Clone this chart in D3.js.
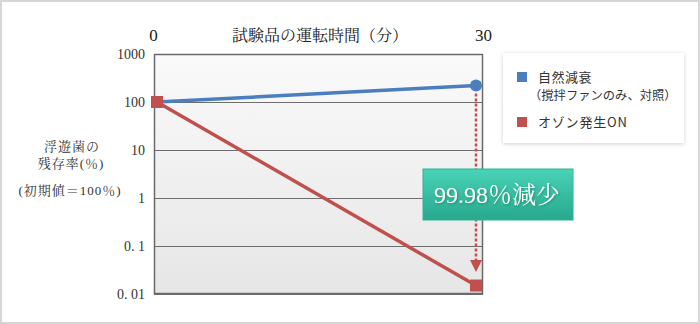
<!DOCTYPE html>
<html><head><meta charset="utf-8">
<script src="https://cdn.jsdelivr.net/npm/d3@7"></script>
<style>
html,body{margin:0;padding:0;background:#fff;}
svg{display:block;}
.serif{font-family:"Liberation Serif","DejaVu Serif","Noto Serif CJK JP","Noto Sans CJK JP",serif;}
.sans{font-family:"Noto Sans CJK JP","Noto Sans",sans-serif;}
</style></head>
<body>
<svg id="chart" width="700" height="324"></svg>
<script>
const times = [0, 30];
const naturalDecay = [100, 220];
const ozoneOn = [100, 0.015];
const yTicks = [1000, 100, 10, 1, 0.1, 0.01];
const yTickLabels = ["1000", "100", "10", "1", "0. 1", "0. 01"];
const seriesNames = ["自然減衰", "（撹拌ファンのみ、対照）", "オゾン発生ON"];
const xTitle = "試験品の運転時間（分）";
const yTitle = ["浮遊菌の", "残存率(％)", "(初期値＝100％)"];
const callout = "99.98％減少";

const svg = d3.select("#chart");
const defs = svg.append("defs");

const bgGrad = defs.append("linearGradient").attr("id","bg").attr("x1",0).attr("y1",0).attr("x2",0).attr("y2",1);
bgGrad.append("stop").attr("offset","0%").attr("stop-color","#fafafa");
bgGrad.append("stop").attr("offset","100%").attr("stop-color","#e6e6e6");
const tealGrad = defs.append("linearGradient").attr("id","teal").attr("x1",0).attr("y1",0).attr("x2",0).attr("y2",1);
tealGrad.append("stop").attr("offset","0%").attr("stop-color","#48d3b7");
tealGrad.append("stop").attr("offset","100%").attr("stop-color","#28a88c");
const shadow = defs.append("filter").attr("id","sh").attr("x",-0.1).attr("y",-0.1).attr("width",1.2).attr("height",1.3);
shadow.append("feDropShadow").attr("dx",0).attr("dy",1).attr("stdDeviation",2).attr("flood-color","#000").attr("flood-opacity",0.18);
const tshadow = defs.append("filter").attr("id","tsh").attr("x",-0.1).attr("y",-0.2).attr("width",1.2).attr("height",1.5);
tshadow.append("feDropShadow").attr("dx",1).attr("dy",1).attr("stdDeviation",0.8).attr("flood-color","#0a5e4c").attr("flood-opacity",0.5);

svg.append("rect").attr("x",1).attr("y",1).attr("width",698).attr("height",322).attr("fill","#fff").attr("stroke","#d6d6d6").attr("stroke-width",2);

const plot = {left:154, right:483, top:54, bottom:294};
const x = d3.scaleLinear().domain([0,30]).range([157,476]);
const y = d3.scaleLog().domain([0.01,1000]).range([plot.bottom, plot.top]);

svg.append("rect").attr("x",plot.left).attr("y",plot.top).attr("width",plot.right-plot.left).attr("height",plot.bottom-plot.top).attr("fill","url(#bg)");

svg.append("g").selectAll("line").data(yTicks).join("line")
  .attr("x1",plot.left).attr("x2",plot.right)
  .attr("y1",d=>Math.round(y(d))+0.5).attr("y2",d=>Math.round(y(d))+0.5)
  .attr("stroke","#6e6e6e").attr("stroke-width",1);
svg.append("rect").attr("x",plot.left+0.5).attr("y",plot.top+0.5).attr("width",plot.right-plot.left-1).attr("height",plot.bottom-plot.top-1)
  .attr("fill","none").attr("stroke","#6a6a6a").attr("stroke-width",1.5);

const yAxis = d3.axisLeft(y).tickValues(yTicks).tickSize(0).tickPadding(9).tickFormat((d,i)=>yTickLabels[i]);
const gy = svg.append("g").attr("transform",`translate(${plot.left},0)`).call(yAxis);
gy.attr("font-family",null).attr("font-size",null);
gy.select(".domain").remove();
gy.selectAll("text").attr("class","serif").style("font-size","14px").attr("fill","#333");

const xAxis = d3.axisTop(x).tickValues(times).tickSize(0).tickPadding(0);
const gx = svg.append("g").attr("transform","translate(0,41)").call(xAxis);
gx.attr("font-family",null).attr("font-size",null);
gx.select(".domain").remove();
gx.selectAll("text").attr("class","serif").style("font-size","17px").attr("fill","#222")
  .attr("dx",(d,i)=>i===0?-4:7);
svg.append("text").attr("class","serif").attr("x",320).attr("y",41).attr("text-anchor","middle").style("font-size","16px").attr("fill","#222").text(xTitle);

yTitle.forEach((t,i)=>{
  svg.append("text").attr("class","serif").attr("x",[72,71,70][i]).attr("y",[151,168,195][i]).attr("text-anchor","middle")
    .style("font-size","13px").attr("fill","#333").attr("letter-spacing",1).text(t);
});

const ax = x(30);
svg.append("line").attr("x1",ax).attr("x2",ax).attr("y1",y(naturalDecay[1])+8).attr("y2",262)
  .attr("stroke","#c0504d").attr("stroke-width",2.5).attr("stroke-dasharray","3,2");
svg.append("path").attr("d",`M${ax-6},260 L${ax+6},260 L${ax},272 Z`).attr("fill","#c0504d");

const line = d3.line().x((d,i)=>x(times[i])).y(d=>y(d));
svg.append("path").datum(naturalDecay).attr("d",line).attr("fill","none").attr("stroke","#4a7ebe").attr("stroke-width",3.5);
svg.append("path").datum(ozoneOn).attr("d",line).attr("fill","none").attr("stroke","#c0504d").attr("stroke-width",3.5);

svg.append("circle").attr("cx",x(times[1])).attr("cy",y(naturalDecay[1])).attr("r",6).attr("fill","#4a7ebe");
svg.selectAll(".sq").data(ozoneOn).join("rect").attr("class","sq")
  .attr("x",(d,i)=>x(times[i])-6).attr("y",d=>y(d)-6).attr("width",12).attr("height",12).attr("fill","#c0504d");

svg.append("rect").attr("x",423).attr("y",169).attr("width",150).attr("height",51).attr("fill","url(#teal)").attr("stroke","#2fb293").attr("stroke-width",1);
svg.append("text").attr("class","serif").attr("x",497).attr("y",203).attr("text-anchor","middle").style("font-size","24px")
  .attr("fill","#fff").attr("filter","url(#tsh)").text(callout);

svg.append("rect").attr("x",503).attr("y",53).attr("width",181).attr("height",90).attr("fill","#fff").attr("filter","url(#sh)");
svg.append("rect").attr("x",517).attr("y",72).attr("width",10).attr("height",10).attr("fill","#4a7ebe");
svg.append("rect").attr("x",517).attr("y",117).attr("width",10).attr("height",10).attr("fill","#c0504d");
svg.append("text").attr("class","sans").attr("x",538).attr("y",82).style("font-size","13px").attr("letter-spacing",0.5).attr("fill","#333").text(seriesNames[0]);
svg.append("text").attr("class","sans").attr("x",529).attr("y",100).style("font-size","12.3px").attr("fill","#333").text(seriesNames[1]);
svg.append("text").attr("class","sans").attr("x",538).attr("y",127).style("font-size","13px").attr("letter-spacing",0.8).attr("fill","#333").text(seriesNames[2]);
</script>
</body></html>
